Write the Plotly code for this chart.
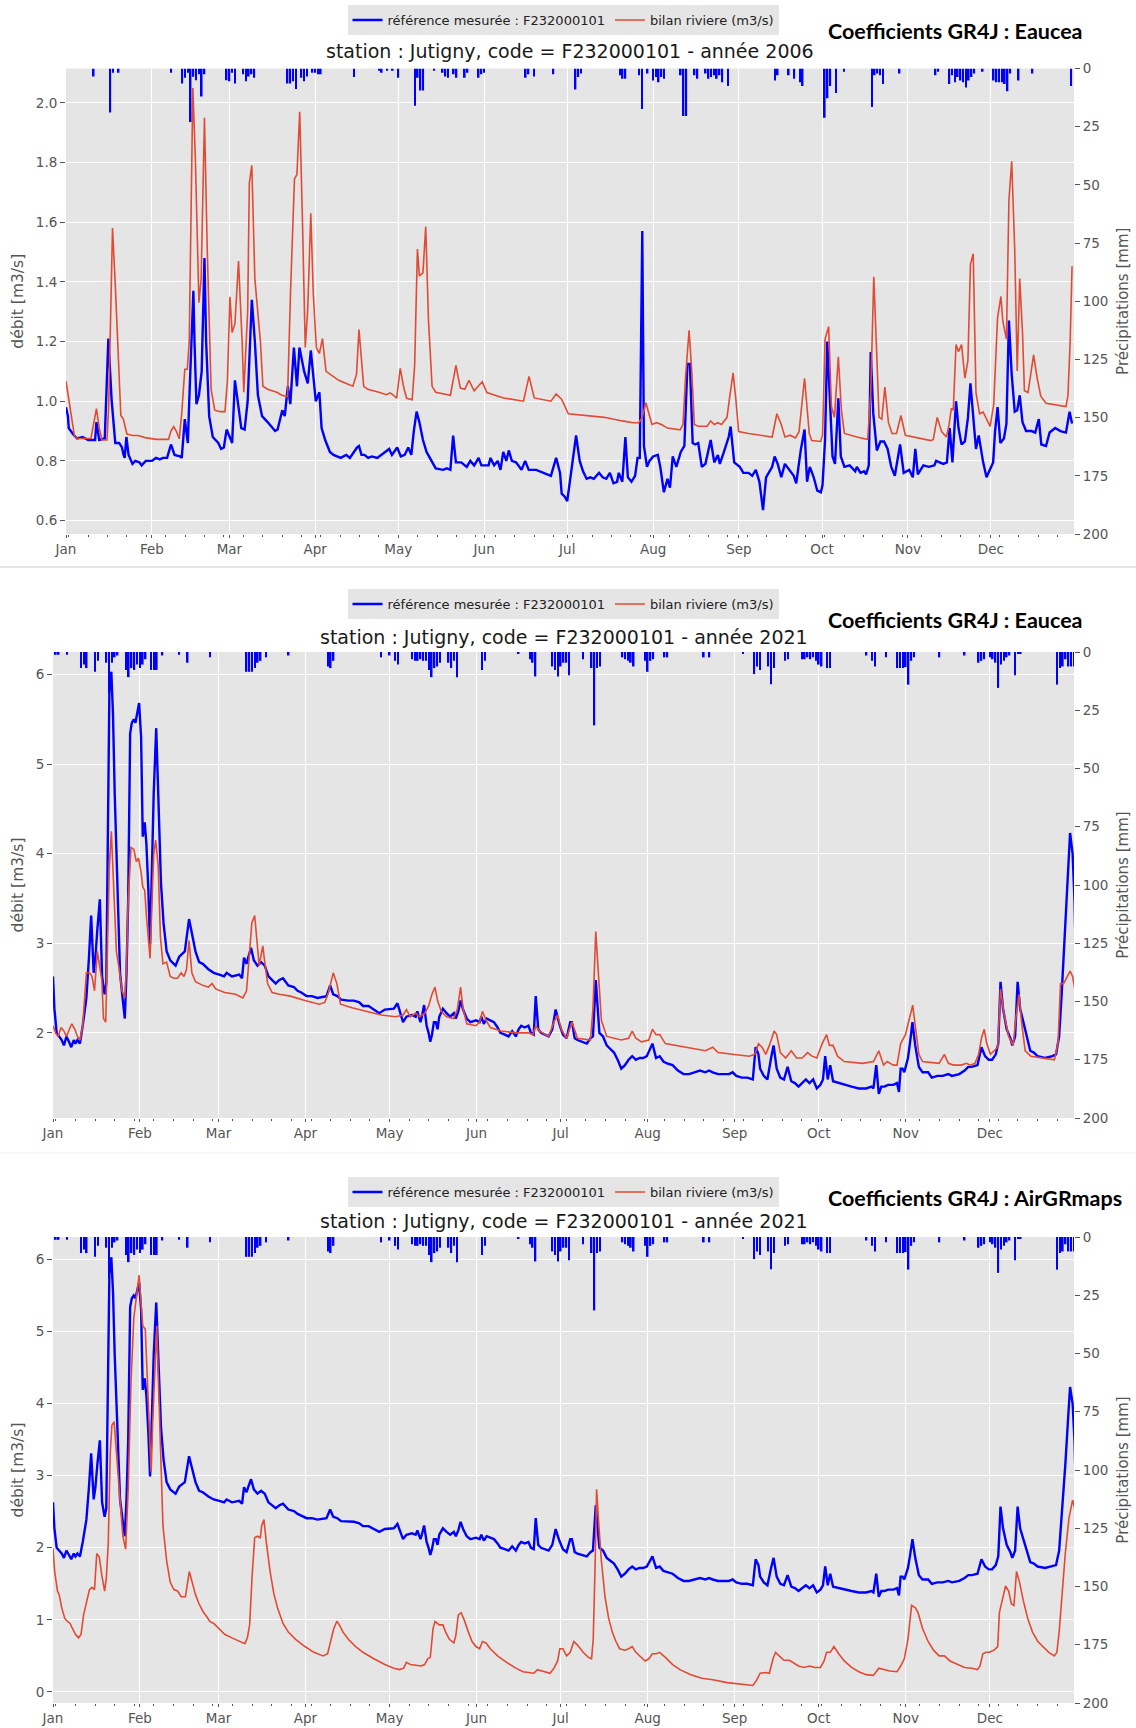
import numpy as np
import pandas as pd
import plotly.graph_objects as go

W, H = 1136, 1728

# ---------------- DATA ----------------
MONTH_LABELS = ["Jan", "Feb", "Mar", "Apr", "May", "Jun", "Jul", "Aug", "Sep", "Oct", "Nov", "Dec"]

# 2006 - measured flow (day of year, m3/s)
BLUE06_DAY = [0,0.7,1,2.5,4,6,8,10.5,11,12,14,15.3,16.5,17.8,19.2,20.2,20.8,21.2,21.8,22.6,24,25,26.5,27.3,28.8,31,32.5,33.9,35,36.5,37.9,39.2,41.2,41.8,42.9,44,44.5,46,46.4,47.1,48,49,50,50.6,51.7,53,55,56,57,58,60,61,62.3,63.3,64.5,65.6,67.1,68.2,69.3,70.8,72.8,75.5,76.4,78.1,79,80.1,81,82.3,83.4,84.3,86,87.3,88.4,89.6,90.2,91.5,92.3,93.6,95.3,96.6,99.2,101.2,102.5,105.1,105.8,106.7,107.8,109.1,110.4,112.4,115.7,116.7,117.7,119.6,120.9,122.3,123.6,124.7,125.6,126.6,127.6,128.9,130.2,131.5,133.5,136.2,137.5,138.8,139.8,140.8,142.7,144.7,146,147.4,149,150,152.6,153.3,154.6,155.9,156.9,157.9,159,159.9,161,162.5,164.5,165.8,167.1,169.8,172.4,175.1,177,178.4,179,180.1,181,182.3,183,184.2,185.5,186.7,188,189.3,190.6,192.5,193.8,195.1,196.4,197.7,199,199.6,200.9,202,202.9,204.2,205.5,206.4,207.2,208.1,208.7,209.8,210.7,212,213.7,214.6,215.9,217.2,218.1,219.1,220.4,222,223.3,224.4,225.3,226.3,227.2,228.3,229.6,230.9,232.8,234.1,235.4,236.1,237.4,239.3,240,241.3,243.3,244.6,246.5,247.8,249.1,250.4,251.7,252.8,255,255.9,257,258.3,259.6,261.2,262.8,263.7,265.4,266.7,267.6,268.6,270,271.3,272.6,273.2,274.1,274.9,275.8,276.8,277.7,278.9,279.8,281.1,283,285,285.6,286.9,288.2,288.9,289.9,290.6,291.5,292.8,294.1,295.4,296.7,298,299.3,301.2,302.5,304.5,305.8,306.7,307.6,309.6,311.6,313.6,314.2,315.5,316.8,318.1,319.1,320.1,321.4,322.3,323.4,324.6,325.7,326.6,327.6,328.6,329.6,330.5,331.2,332.4,333.7,334.8,335.5,336.4,337.4,338.7,339.6,340.5,341.5,342.6,343.5,344.4,345.4,346.7,348.7,350,351.3,352.2,353.9,355.2,357.2,359.1,361.1,362.4,363.3]
BLUE06_Q = [0.98,0.95,0.91,0.89,0.875,0.88,0.87,0.87,0.93,0.87,0.875,1.21,1.0,0.86,0.86,0.845,0.82,0.81,0.88,0.82,0.79,0.80,0.795,0.785,0.80,0.80,0.81,0.805,0.81,0.81,0.855,0.82,0.815,0.81,0.94,0.86,1.0,1.37,1.2,0.99,1.02,1.1,1.48,1.2,0.95,0.88,0.86,0.84,0.845,0.905,0.86,1.07,0.98,0.91,0.905,1.0,1.34,1.2,1.02,0.95,0.93,0.90,0.905,0.97,0.95,1.05,0.99,1.18,1.05,1.18,1.10,1.06,1.17,1.07,1.0,1.03,0.91,0.87,0.83,0.82,0.81,0.82,0.81,0.845,0.85,0.82,0.82,0.81,0.815,0.81,0.835,0.84,0.82,0.845,0.815,0.82,0.845,0.82,0.9,0.965,0.93,0.87,0.83,0.81,0.775,0.77,0.775,0.77,0.885,0.795,0.795,0.78,0.80,0.785,0.81,0.785,0.785,0.81,0.785,0.80,0.77,0.83,0.80,0.835,0.80,0.795,0.77,0.80,0.77,0.77,0.76,0.75,0.81,0.76,0.69,0.68,0.665,0.75,0.79,0.885,0.80,0.765,0.74,0.745,0.74,0.76,0.745,0.74,0.76,0.725,0.73,0.76,0.73,0.88,0.745,0.73,0.75,0.81,0.81,1.57,0.85,0.78,0.80,0.815,0.82,0.78,0.695,0.74,0.71,0.815,0.78,0.83,0.85,1.125,1.125,0.86,0.855,0.86,0.78,0.79,0.87,0.795,0.82,0.79,0.825,0.88,0.915,0.795,0.78,0.76,0.76,0.75,0.77,0.73,0.635,0.745,0.78,0.815,0.79,0.745,0.79,0.77,0.75,0.725,0.84,0.905,0.73,0.78,0.745,0.70,0.695,0.72,0.87,1.2,1.005,0.815,0.79,1.01,0.815,0.78,0.785,0.765,0.78,0.76,0.765,0.755,0.785,1.165,0.96,0.835,0.865,0.865,0.84,0.78,0.75,0.855,0.76,0.77,0.745,0.84,0.755,0.785,0.78,0.785,0.80,0.795,0.79,0.795,0.91,0.795,1.0,0.91,0.855,0.865,0.945,1.06,0.94,0.84,0.885,0.825,0.795,0.745,0.77,0.795,0.90,0.98,0.86,0.875,0.925,1.27,1.09,0.965,0.97,1.02,0.93,0.90,0.90,0.895,0.94,0.855,0.85,0.895,0.91,0.90,0.895,0.965,0.925]

# 2006 - simulated river balance (Eaucea)
RED06_DAY = [0,1.6,3,4,6,9,11,12,13,14.8,15.4,16.8,17.8,18.7,19.8,20.7,22,24,26,28.6,32.6,37,37.9,38.9,39.8,40.9,41.8,42.9,43.8,44.5,45.8,46.7,48,48.8,50,51,52.4,53.7,55.7,57.4,58.3,59.2,60,61,62.3,63.6,64.2,65.6,66.2,67.1,68.2,70.2,71.1,72.8,76.1,78,80,81.1,82.5,83.4,84.4,85.4,86.4,87.3,88.4,89.3,90.4,91.5,92.6,93.9,95.3,98.5,101,103.6,104.9,105.8,107.5,109,113,115.7,117,118,119.4,120.7,122,123,125,125.9,126.9,127.6,128.9,129.9,130.9,132.2,133.5,138.8,140.8,142.4,144,145.5,147.4,148.7,150.3,152,158,165.2,167.2,169.1,175.1,177,179,181.4,194.4,200.9,204.8,206.8,208.1,209.4,210.7,211.6,213.3,215,217.2,221.8,222.8,223.7,225,226,226.9,228.3,231.5,232.8,234.1,235.4,236.7,238.7,239.7,240.9,241.9,242.9,246.5,255,256.7,258.3,259.6,261.5,263.4,264.7,266.7,268.4,269.3,272.5,273.2,274.1,275.4,276.4,277.5,278.9,280,281.1,285.6,289.5,290.6,291.7,292.8,293.6,294.6,295.7,297,298.3,299.9,301.5,303.1,312.3,313.2,314.6,316.2,317.9,318.8,319.7,320.4,321.4,322.3,323.4,324.6,325.7,326.6,327.6,328.6,329.9,331.2,332.4,333.7,335,336.4,337.6,338.3,339.6,340.5,341.5,342.6,343.5,344.4,345.4,346.1,347.4,348.7,349.4,350.7,352,353.9,361.1,361.8,362.6,363.3]
RED06_Q = [1.067,0.97,0.886,0.875,0.875,0.875,0.975,0.91,0.87,0.87,0.98,1.58,1.39,1.2,0.952,0.94,0.89,0.885,0.885,0.878,0.872,0.872,0.9,0.915,0.9,0.874,0.96,1.107,1.107,1.2,2.05,1.82,1.33,1.41,1.95,1.51,1.04,0.97,0.965,0.965,1.07,1.35,1.23,1.26,1.47,1.2,1.03,1.3,1.73,1.79,1.41,1.2,1.05,1.04,1.03,1.02,1.015,1.37,1.745,1.76,1.97,1.6,1.18,1.31,1.63,1.36,1.18,1.16,1.21,1.1,1.09,1.07,1.06,1.05,1.09,1.24,1.05,1.04,1.03,1.022,1.028,1.022,1.01,1.11,1.044,1.01,1.005,1.12,1.51,1.42,1.43,1.585,1.27,1.05,1.03,1.02,1.12,1.044,1.04,1.07,1.035,1.047,1.065,1.029,1.011,1.0,1.083,1.011,1.0,1.024,1.006,0.958,0.946,0.934,0.928,0.928,0.946,0.995,0.952,0.922,0.928,0.922,0.91,0.904,0.922,1.077,1.238,1.095,0.922,0.916,0.916,0.934,0.922,0.928,0.922,0.946,1.017,1.095,1.005,0.898,0.892,0.88,0.958,0.922,0.88,0.886,0.877,0.898,1.077,0.892,0.868,0.865,0.886,1.208,1.25,0.982,0.946,1.149,0.97,0.892,0.88,0.872,1.029,1.417,1.149,0.946,0.94,1.047,0.928,0.892,0.892,0.952,0.886,0.868,0.872,0.946,0.898,0.88,0.916,0.976,0.97,1.19,1.166,1.19,1.077,1.137,1.459,1.494,1.029,0.958,0.964,0.94,0.916,0.988,1.28,1.351,1.268,1.208,1.673,1.804,1.506,1.101,1.411,1.232,1.035,1.029,1.113,1.155,1.077,1.017,0.993,0.982,1.017,1.196,1.452]

# 2006 - daily precipitation (day of year, mm)
PRECIP06_DAY = [10,16,17,19,38,42,43,44,45,46,47,48,49,50,58,59,60,61,64,65,66,67,68,80,81,82,83,85,86,87,89,90,91,92,104,113,114,116,118,120,126,127,128,129,133,136,137,138,140,141,144,145,149,150,151,166,167,169,176,184,185,186,200,201,202,207,208,210,212,213,214,215,216,222,223,224,227,228,231,232,233,234,235,236,237,239,256,257,261,263,265,266,274,275,276,278,281,291,292,293,294,295,301,314,315,319,320,321,322,323,324,325,326,327,328,331,335,336,337,338,339,340,341,344,349,363]
PRECIP06_MM = [3.4,18.9,1.8,1.8,1.8,6.4,4,1.8,23,3.5,5,2.5,12,2.5,5,5.5,1.8,6.4,2.5,5.5,3.4,2.5,4,6.4,6.4,5.5,8.8,4,5.5,3.4,1.8,1.8,2.5,2.5,3.6,1,1.8,1,1,4,16,4,9.5,9.5,1,1.8,3.4,4,2.5,4,4,1.8,4,2.5,1.8,4,2.5,3.4,2.5,9,3.6,2.1,2.9,4.4,4.4,2.9,17.4,2.1,5.2,3.7,5.9,3.7,4.4,2.9,20.4,20.4,2.9,4.4,2.1,4.4,3.7,2.9,4.4,2.9,5.9,7.5,5.2,2.9,2.9,4.4,5.9,7.5,21.2,12.8,7.5,10.5,1.4,16.5,2.9,2.1,2.9,6.7,2.1,2.9,1.4,6.7,2.9,5.9,3.7,5.2,5.9,8.2,5.2,3.7,2.1,1.4,5.2,5.9,5.9,5.9,6.7,9.8,2.1,5.2,2.1,7.5]

# 2021 - measured flow
BLUE21_DAY = [0,0.5,1.3,2.2,3.1,3.9,4.8,5.7,6.5,7.4,8,8.7,9.6,10.6,11.9,12.8,13.6,14.5,15.1,15.8,16.7,17.5,18.4,19,19.7,20.1,20.8,21.4,22,23,23.9,24.9,25.6,26.2,26.8,27.5,28.1,28.8,29.4,30.1,30.7,31.4,32,32.7,33.3,34,34.6,35.3,35.9,36.8,37.5,38.5,39.4,40.5,41.8,43.7,45,47,48.5,49.5,50.8,52.1,53.4,55.4,57.3,59.3,61,61.9,63.8,66.4,67.4,68.1,69,69.6,70.6,71.6,72.9,74.2,75.5,76.8,78.1,79.4,80.7,82,83.9,85.9,87.2,88.5,90.4,92.3,94.3,97.5,98.8,99.9,101.4,102.7,105.3,107.3,109.2,110.5,112.5,114.4,116.3,118.3,120.3,121.5,122.8,123.7,124.8,126,128,129.3,129.9,131,131.5,132.3,133.2,133.9,134.5,135.1,135.8,136.5,137.1,137.7,138.4,139,140.3,141.6,142.9,143.6,144.5,145.3,146.2,147.5,148.8,150.8,152.1,152.7,153.6,154.6,155.9,157.2,158.5,159.5,161.1,162.4,163.7,165,166,166.9,168.2,169.5,170.4,171.4,172.1,173,174,175.4,176.7,178,179.2,180.5,181.8,183.1,184.4,185,186,187,189,190.3,191.6,192.5,193.5,194.8,196.1,197.4,198.7,200,201.3,202.6,203.9,205.2,206.5,207.8,209.1,210.4,211.7,213.7,215,216.3,217.6,218.9,220.9,222.8,224.8,226.7,228.7,230.6,232.6,233.9,235.2,237.1,239.1,241,242.3,243.6,245.6,247.5,249.5,250.5,251.5,252.1,253.4,254.7,256,256.9,258,259.3,260.6,261.9,263.2,264.5,265.8,267.1,268.4,269.7,271,272.3,273.6,274.5,275.3,276.2,277.1,278.1,280.1,282.1,284.7,287.3,289.9,291.8,292.5,293.5,294.4,295.3,296.4,297.7,299.6,300.9,301.6,302.2,302.9,303.5,304.8,305.5,306.4,307.4,308.7,310,312,313.3,315.3,317.2,319.2,320.5,323.1,325,326.3,327.6,329.6,331,332.3,333.6,334.8,336.1,337,337.8,338.7,340,341.3,342,343,343.9,344.8,346.1,347.4,348.4,349.7,351,353.7,356.3,357.6,358.7,359.6,360.9,361.8,362.6,363.5,364.2,364.8]
BLUE21_Q = [2.63,2.27,2.0,1.96,1.92,1.86,1.96,1.90,1.84,1.92,1.88,1.92,1.88,2.08,2.39,2.83,3.31,2.67,2.83,3.15,3.49,2.63,2.43,2.55,5.18,5.80,6.03,5.54,4.67,3.47,2.67,2.36,2.16,2.67,3.47,5.34,5.46,5.50,5.46,5.58,5.68,5.30,4.19,4.35,4.11,3.59,2.99,3.87,4.67,5.40,4.67,3.67,3.23,2.91,2.81,2.75,2.85,2.91,3.27,3.11,2.91,2.79,2.77,2.71,2.67,2.65,2.63,2.67,2.63,2.65,2.61,2.84,2.77,2.84,2.95,2.81,2.75,2.79,2.75,2.63,2.59,2.55,2.59,2.61,2.53,2.51,2.47,2.45,2.41,2.41,2.39,2.41,2.53,2.43,2.41,2.37,2.36,2.36,2.34,2.30,2.30,2.26,2.22,2.26,2.27,2.27,2.33,2.24,2.12,2.18,2.20,2.18,2.24,2.12,2.18,2.31,2.08,2.0,1.90,1.98,2.12,2.12,2.04,2.18,2.22,2.27,2.22,2.18,2.22,2.16,2.24,2.36,2.26,2.16,2.12,2.14,2.12,2.18,2.10,2.16,2.14,2.12,2.06,2.0,1.98,1.96,2.02,1.96,2.04,2.08,2.06,2.08,2.0,1.98,2.41,2.04,2.0,1.98,1.96,2.04,2.26,2.10,1.98,1.94,2.12,2.12,1.94,1.92,1.90,1.88,1.94,1.96,2.59,2.0,1.96,1.86,1.82,1.78,1.70,1.60,1.64,1.70,1.74,1.70,1.72,1.72,1.74,1.88,1.72,1.74,1.68,1.66,1.64,1.58,1.54,1.54,1.56,1.58,1.56,1.58,1.56,1.54,1.54,1.54,1.56,1.52,1.50,1.50,1.48,1.84,1.76,1.60,1.52,1.48,1.72,1.86,1.60,1.50,1.48,1.62,1.46,1.44,1.40,1.44,1.48,1.44,1.48,1.38,1.42,1.48,1.74,1.48,1.64,1.46,1.44,1.42,1.40,1.38,1.38,1.40,1.38,1.64,1.32,1.40,1.40,1.42,1.42,1.44,1.34,1.60,1.60,1.56,1.72,1.88,2.12,1.86,1.62,1.56,1.56,1.50,1.52,1.52,1.54,1.52,1.54,1.58,1.62,1.62,1.64,1.84,1.74,1.70,1.70,1.76,1.88,2.57,2.27,2.04,1.94,1.86,1.96,2.57,2.27,2.10,1.92,1.80,1.78,1.74,1.72,1.74,1.76,1.96,2.43,3.15,3.73,4.23,4.0,3.47,2.6]

# 2021 - simulated river balance, GR4J coefficients Eaucea
RED21E_DAY = [0,0.9,1.8,2.9,3.9,4.8,6.1,6.7,7.8,8.7,9.6,10.6,11.9,13,13.9,14.8,15.8,16.5,17.4,18,18.8,19.5,20.1,20.8,21.7,22.6,23.6,24.6,25.6,26.2,26.8,27.8,28.8,29.7,30.5,31.4,32,32.7,33.3,34,34.6,35.3,35.9,36.6,37.5,38.3,39.2,40.5,41.8,43.1,44.4,45.7,46.7,47.6,48.5,49.5,50.8,53.4,55.4,56.7,58,61.2,65.1,67.7,69,70,70.9,71.9,72.9,73.5,74.2,74.8,75.5,76.5,78.1,80.7,84.6,89.8,94.9,96.9,98.2,99.9,101.2,102.5,106.6,111.8,117,122.2,124.8,126,127.4,129.3,130.6,132.6,133.9,135.1,136.2,137.1,138.4,140.3,142.9,144.2,145.3,146.2,147.5,150.8,152.1,153.1,154.4,155.9,159.8,165,169.5,171.2,172.1,173.4,176.7,178.6,179.9,181.2,183.1,185,186,187,191.6,192.5,193.5,194.6,195.5,197.4,202.6,205.2,206.5,207.8,209.8,212.4,213.7,215,216.3,218.3,222.2,232.6,235.2,237.1,248.2,250.2,251.5,252.8,254.1,255.4,257.1,258,259.3,261.2,263.2,265.1,267.1,269,270.6,272.3,274.2,275.8,276.8,278.1,279.7,282.1,288.6,292.5,294.4,296.1,297.4,299.6,300.9,302.2,303.9,305.5,306.5,307.4,308.7,310,315.9,317.8,319.2,321.1,323.7,325.7,327,328.7,330,331,332,332.9,334.2,335.5,336.8,337.8,339.1,340.7,342.3,343.4,344.4,345.3,346.6,348.6,352.5,357,358.3,359.2,360.3,361.5,362.6,363.5,364.4,364.8]
RED21E_Q = [2.08,2.0,1.96,2.06,2.02,1.96,2.06,2.10,2.04,1.96,1.92,2.08,2.67,2.67,2.63,2.47,2.91,2.77,2.59,2.16,2.12,3.07,3.87,4.25,3.47,2.91,2.71,2.47,2.39,2.75,3.47,4.07,4.05,3.91,3.95,3.79,3.63,3.59,3.31,3.07,2.83,3.47,3.99,4.15,3.87,3.07,2.77,2.79,2.63,2.61,2.61,2.67,2.63,2.71,3.03,2.67,2.57,2.53,2.51,2.55,2.49,2.45,2.43,2.39,2.47,2.87,3.23,3.31,2.91,2.75,2.87,2.97,2.79,2.55,2.45,2.43,2.41,2.36,2.32,2.34,2.45,2.67,2.55,2.32,2.28,2.24,2.20,2.18,2.20,2.26,2.18,2.22,2.18,2.22,2.30,2.43,2.51,2.36,2.24,2.18,2.16,2.27,2.51,2.27,2.10,2.08,2.12,2.24,2.14,2.06,2.02,2.0,2.0,1.98,2.08,2.02,1.96,2.12,2.20,2.04,1.94,2.12,2.02,1.94,1.92,2.27,3.13,2.63,2.14,1.96,1.92,1.94,2.02,1.94,1.90,1.92,2.04,1.98,1.98,1.88,1.86,1.80,1.84,1.78,1.74,1.76,1.88,1.84,1.76,1.86,2.02,1.98,1.78,1.72,1.80,1.72,1.72,1.78,1.74,1.72,1.88,1.98,1.86,1.86,1.74,1.68,1.66,1.68,1.80,1.64,1.68,1.64,1.64,1.88,1.98,2.18,2.31,2.08,1.76,1.68,1.66,1.76,1.66,1.64,1.64,1.66,1.64,1.66,1.76,1.94,2.04,1.88,1.76,1.80,1.84,2.49,2.20,1.96,1.86,2.20,2.43,2.12,1.80,1.74,1.72,1.70,1.88,2.55,2.55,2.63,2.69,2.63,2.47,2.12]

# 2021 - simulated river balance, GR4J coefficients AirGRmaps
RED21A_DAY = [0,0.6,1.6,2.2,3.1,4.2,5.2,6.1,6.7,8,9.1,10,10.9,11.9,13,13.9,14.8,15.6,16.5,17.4,18.4,19,19.7,20.4,21,21.8,22.6,23.6,24.9,25.9,26.8,27.8,28.8,29.8,30.7,31.4,32,32.9,33.7,34.4,35,35.5,36.3,37,37.6,38.3,39.2,40.5,41.8,43.1,44.4,45.7,47.2,48,48.6,49.5,50.8,52.1,53.4,54.7,56,57.3,58.6,61.2,63.8,66.4,68.4,69.3,70.1,71,71.9,72.9,73.9,74.4,75.2,76.1,77.4,78.7,80,82,83.9,86.5,89.8,93,96.3,97.9,98.8,100.1,101.2,102.1,103.4,105.3,107.9,110.5,114.4,118.3,121.5,123.5,125,126,127.4,129.3,131.2,132.5,133.6,134.5,135.5,136.2,137.1,137.7,139,140,141.3,142.9,143.6,144.5,145.5,146.6,148.1,149.4,150.8,152.1,153.1,154.4,155.9,158.5,161.7,165,167.6,170.1,171.4,172.7,175.3,177.2,178.6,179.9,180.7,181.8,183.1,184.4,185.7,187,189,190.9,192,192.6,193.3,193.8,194.6,195.5,196.8,198.1,199.4,200.7,202,203.9,205.2,206.5,207.8,209.1,211.1,212.4,213.7,215,216.3,218.3,220.9,223.5,227.4,231.3,235.2,240.4,245.6,249.5,250.8,252.1,254.1,255.4,256.7,257.6,258.9,260.6,262.5,263.8,265.8,267.7,269.7,271.6,273.6,274.9,275.8,277.1,278.4,280.1,282.1,284.7,287.3,289.9,292.5,294.4,296.4,298.3,300.9,302.2,303.5,304.8,306.1,307.4,308.4,310,312,313.9,315.9,317.8,319.8,322.4,325,327.6,329.6,330.5,331.5,332.6,333.9,335.5,336.8,337.4,338.7,339.6,340.7,341.7,342.6,343.5,344.6,345.9,347.5,349.2,351.1,353.1,355,357,357.9,358.7,359.6,360.9,362.2,363.5,364.2,364.8]
RED21A_Q = [1.99,1.67,1.40,1.35,1.17,1.02,0.975,0.95,0.90,0.80,0.75,0.80,1.07,1.22,1.42,1.45,1.42,1.92,1.87,1.62,1.40,1.57,2.06,3.30,3.70,3.75,3.30,2.81,2.16,1.98,2.81,4.29,5.18,5.48,5.78,5.38,5.08,5.03,4.29,3.70,3.05,3.70,4.54,5.08,4.29,3.30,2.31,1.82,1.52,1.42,1.40,1.32,1.32,1.52,1.67,1.54,1.35,1.22,1.12,1.05,0.975,0.95,0.90,0.80,0.75,0.70,0.67,0.75,0.93,1.62,2.14,2.16,2.14,2.31,2.39,2.06,1.67,1.37,1.17,0.95,0.83,0.73,0.63,0.55,0.50,0.53,0.68,0.88,0.98,0.93,0.83,0.73,0.63,0.55,0.46,0.38,0.33,0.31,0.33,0.41,0.38,0.37,0.36,0.38,0.46,0.48,0.88,0.98,0.95,0.93,0.93,0.83,0.73,0.68,0.78,1.07,1.10,1.0,0.83,0.70,0.63,0.60,0.70,0.68,0.60,0.50,0.41,0.33,0.28,0.27,0.26,0.31,0.28,0.26,0.33,0.43,0.60,0.60,0.50,0.55,0.70,0.65,0.55,0.48,0.46,0.73,1.82,2.81,2.31,1.82,1.32,1.02,0.83,0.70,0.60,0.58,0.60,0.63,0.55,0.50,0.43,0.46,0.53,0.53,0.55,0.48,0.38,0.31,0.24,0.19,0.17,0.13,0.11,0.09,0.16,0.26,0.27,0.26,0.46,0.55,0.50,0.44,0.44,0.41,0.36,0.34,0.36,0.34,0.34,0.43,0.55,0.55,0.63,0.53,0.43,0.34,0.28,0.24,0.23,0.33,0.31,0.29,0.28,0.36,0.46,0.73,1.20,1.17,1.10,0.88,0.70,0.58,0.50,0.50,0.43,0.38,0.34,0.33,0.31,0.36,0.53,0.55,0.55,0.58,0.63,1.10,1.32,1.47,1.40,1.22,1.20,1.67,1.52,1.27,1.02,0.83,0.70,0.63,0.55,0.50,0.55,0.83,1.32,1.92,2.41,2.66,2.56,2.14]

# 2021 - daily precipitation
PRECIP21_DAY = [1,2,5,10,11,12,15,16,19,20,21,22,23,26,27,28,29,30,31,32,33,35,36,37,39,45,48,56,69,70,71,72,73,74,76,84,98,99,100,117,120,122,123,128,129,130,131,132,133,134,135,136,137,138,141,142,143,144,153,154,166,170,171,172,178,179,180,181,182,183,184,189,192,193,194,195,203,204,205,206,207,211,212,213,214,218,219,232,234,246,250,251,252,255,256,257,261,262,267,268,269,270,271,272,273,274,276,277,290,292,293,297,301,302,303,304,305,306,307,316,325,330,331,332,334,335,336,337,338,339,340,341,343,344,345,358,359,360,361,362,363,364]
PRECIP21_MM = [1.2,1.2,1.2,6.9,5.4,6.9,8.5,3.8,4.6,17.7,4.6,2.3,1.5,7.7,10.8,6.9,7.7,5.4,6.9,5.4,3.1,7.7,7.7,7.7,1.5,1.2,4.6,2.3,8.5,8.5,8.5,6.9,4.6,3.8,2.3,1.5,6.2,6.9,3.8,2.3,1.5,3.8,5.4,3.1,3.8,3.8,3.1,3.8,3.8,7.7,10.8,6.9,6.2,4.6,4.6,6.9,3.8,10.8,7.7,3.8,0.8,3.1,4.6,10.5,6.2,7.7,10.5,6.2,4.6,4.6,10,3.1,6.9,31.5,6.9,6.2,2.3,3.1,3.8,4.6,6.2,3.8,8.5,3.8,3.1,2.3,2.3,2.3,2.3,0.8,9.5,6.2,7.7,6.2,13.8,6.9,3.8,3.1,3.1,3.1,2.3,3.1,2.3,3.8,5.4,6.2,6.9,6.9,1.5,3.8,6.2,2.3,6.9,6.9,6.9,6.5,14,3.8,2.3,2.3,1.5,4.6,3.8,3.1,2.3,3.1,4.6,15.4,5.4,3.8,2.3,1.5,10,0.8,0.8,14,6.9,6.2,3.1,6.2,6.2,6.2]

PANELS = [
    dict(year=2006, blue=(BLUE06_DAY, BLUE06_Q), red=(RED06_DAY, RED06_Q), rain=(PRECIP06_DAY, PRECIP06_MM),
         coef="Coefficients GR4J : Eaucea", yrange=[0.555, 2.115], ytick=dict(tick0=0.6, dtick=0.2, tickformat=".1f")),
    dict(year=2021, blue=(BLUE21_DAY, BLUE21_Q), red=(RED21E_DAY, RED21E_Q), rain=(PRECIP21_DAY, PRECIP21_MM),
         coef="Coefficients GR4J : Eaucea", yrange=[1.05, 6.25], ytick=dict(tick0=0, dtick=1, tickformat="d")),
    dict(year=2021, blue=(BLUE21_DAY, BLUE21_Q), red=(RED21A_DAY, RED21A_Q), rain=(PRECIP21_DAY, PRECIP21_MM),
         coef="Coefficients GR4J : AirGRmaps", yrange=[-0.153, 6.31], ytick=dict(tick0=0, dtick=1, tickformat="d")),
]

# ---------------- LAYOUT (pixel geometry) ----------------
BOX = [  # top, bottom, left, right  (px)
    (68.5, 534, 66, 1074),
    (652, 1118, 53, 1074),
    (1237, 1703, 53, 1074),
]
LEGEND_TOP = [5, 589, 1177]
TITLE_Y = [51, 637, 1221]
COEF_Y = [31, 620, 1198]
SEPARATORS = [(567, "#CCCCCC"), (1153, "#EEEEEE")]

def px(x):
    return x / W

def py(y):
    return 1 - y / H

def to_dates(year, days):
    return pd.Timestamp(f"{year}-01-01") + pd.to_timedelta(np.asarray(days, dtype=float), unit="D")

GRAY = "#555555"
BLUE = "#0000FF"
RED = "#E24A33"
FONT = "DejaVu Sans"

fig = go.Figure()
layout = dict(
    width=W, height=H, margin=dict(l=0, r=0, t=0, b=0, autoexpand=False),
    paper_bgcolor="white", plot_bgcolor="#E5E5E5",
    font=dict(family=FONT, color=GRAY, size=13),
    showlegend=True,
)
annotations = []

for i, p in enumerate(PANELS):
    top, bot, left, right = BOX[i]
    xa = "x" if i == 0 else f"x{i+1}"
    ya = "y" if i == 0 else f"y{2*i+1}"
    yb = f"y{2*i+2}"
    leg = "legend" if i == 0 else f"legend{i+1}"
    year = p["year"]

    fig.add_trace(go.Scatter(x=to_dates(year, p["blue"][0]), y=p["blue"][1], mode="lines",
                             line=dict(color=BLUE, width=2.4), name="référence mesurée : F232000101",
                             xaxis=xa, yaxis=ya, legend=leg))
    fig.add_trace(go.Scatter(x=to_dates(year, p["red"][0]), y=p["red"][1], mode="lines",
                             line=dict(color=RED, width=1.6), name="bilan riviere (m3/s)",
                             xaxis=xa, yaxis=ya, legend=leg))
    fig.add_trace(go.Bar(x=to_dates(year, p["rain"][0]), y=p["rain"][1], base=0,
                         marker=dict(color=BLUE, line=dict(width=0)), width=0.6 * 86400000,
                         showlegend=False, xaxis=xa, yaxis=yb))

    xkey = "xaxis" if i == 0 else f"xaxis{i+1}"
    ykey = "yaxis" if i == 0 else f"yaxis{2*i+1}"
    y2key = f"yaxis{2*i+2}"
    dom_y = [py(bot), py(top)]
    layout[xkey] = dict(
        domain=[px(left), px(right)], anchor=ya, type="date", automargin=False,
        range=[f"{year}-01-01", f"{year}-12-31"],
        dtick="M1", tick0=f"{year}-01-01", tickformat="%b",
        ticks="outside", ticklen=3, tickcolor=GRAY, tickfont=dict(size=13.5, color=GRAY),
        showgrid=True, gridcolor="white", gridwidth=1, zeroline=False, showline=False,
        minor=dict(dtick=7 * 86400000, tick0=f"{year}-01-02", ticks="outside", ticklen=2,
                   tickcolor=GRAY, showgrid=False),
    )
    layout[ykey] = dict(
        domain=dom_y, anchor=xa, range=p["yrange"], automargin=False,
        ticks="outside", ticklen=5, tickcolor=GRAY,
        tickfont=dict(size=13.5, color=GRAY), showgrid=True, gridcolor="white", gridwidth=1.2,
        zeroline=False, showline=False,
        title=dict(text="débit [m3/s]", font=dict(size=15.5, color=GRAY), standoff=8),
        **p["ytick"],
    )
    layout[y2key] = dict(
        overlaying=ya, anchor=xa, side="right", range=[200, 0], tick0=0, dtick=25, automargin=False,
        ticks="outside", ticklen=5, tickcolor=GRAY, tickfont=dict(size=13.5, color=GRAY),
        showgrid=False, zeroline=False, showline=False,
        title=dict(text="Précipitations [mm]", font=dict(size=15, color=GRAY), standoff=10),
    )
    layout[leg] = dict(
        orientation="h", x=px(563), xanchor="center", y=py(LEGEND_TOP[i]), yanchor="top",
        xref="container", yref="container",
        bgcolor="#E5E5E5", bordercolor="#E5E5E5", borderwidth=0,
        font=dict(size=13, color="#222222", family=FONT), itemwidth=30, tracegroupgap=0,
    )
    annotations.append(dict(
        text=f"station : Jutigny, code = F232000101 - année {year}", xref="paper", yref="paper",
        x=px((left + right) / 2), y=py(TITLE_Y[i]), xanchor="center", yanchor="middle", showarrow=False,
        font=dict(size=19, color="#1a1a1a", family=FONT),
    ))
    annotations.append(dict(
        text=f"<b>{p['coef']}</b>", xref="paper", yref="paper",
        x=px(826), y=py(COEF_Y[i]), xanchor="left", yanchor="middle", showarrow=False,
        font=dict(size=21.5, color="black", family="Lato"),
    ))

layout["annotations"] = annotations
layout["shapes"] = [dict(type="line", xref="paper", yref="paper", x0=0, x1=1,
                         y0=py(yy), y1=py(yy), line=dict(color=c, width=1)) for yy, c in SEPARATORS]
fig.update_layout(**layout)
fig.write_html("out.html")
